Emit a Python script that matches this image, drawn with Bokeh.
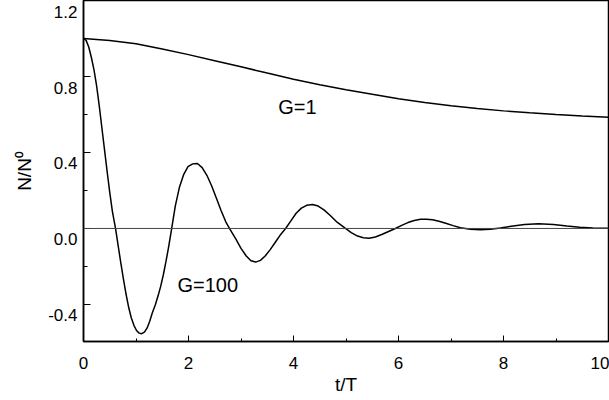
import math
from bokeh.plotting import figure
from bokeh.models import (Range1d, Span, Label, FixedTicker, PrintfTickFormatter,
                          CustomJSTickFormatter, LinearAxis)
from bokeh.embed import file_html
from bokeh.resources import INLINE

# G=1 curve
t_g1 = [0.0, 0.5, 1.0, 1.5, 2.0, 2.5, 3.0, 3.5, 4.0, 4.5, 5.0, 5.5, 6.0, 6.5,
        7.0, 7.5, 8.0, 8.5, 9.0, 9.5, 10.0]
n_g1 = [1.0, 0.99, 0.972, 0.945, 0.915, 0.883, 0.851, 0.818, 0.786, 0.757,
        0.73, 0.706, 0.683, 0.663, 0.646, 0.631, 0.619, 0.609, 0.60, 0.592, 0.585]

# G=100 curve
t_g100 = [0.00, 0.05, 0.10, 0.15, 0.20, 0.25, 0.30, 0.35, 0.40, 0.45, 0.50, 0.55,
          0.61, 0.66, 0.71, 0.76, 0.81, 0.86, 0.91, 0.96, 1.01, 1.06, 1.11, 1.16,
          1.21, 1.26, 1.31, 1.37, 1.43, 1.47, 1.52, 1.57, 1.62, 1.68,
          1.75, 1.83, 1.91, 1.99, 2.08, 2.17, 2.26, 2.35, 2.44, 2.53, 2.62, 2.71, 2.78,
          2.90, 3.00, 3.10, 3.19, 3.28, 3.37, 3.46, 3.56, 3.66, 3.76, 3.85,
          3.95, 4.05, 4.15, 4.25, 4.36, 4.47, 4.58, 4.70, 4.83, 4.99,
          5.10, 5.22, 5.33, 5.44, 5.56, 5.68, 5.80, 5.94,
          6.06, 6.18, 6.30, 6.42, 6.53, 6.65, 6.77, 6.90, 7.04, 7.18,
          7.37, 7.56, 7.75, 7.94, 8.15, 8.40, 8.67, 8.95, 9.21, 9.45, 9.70, 10.0]
n_g100 = [1.00, 0.99, 0.955, 0.90, 0.835, 0.75, 0.645, 0.53, 0.415, 0.30, 0.19, 0.09,
          0.00, -0.09, -0.18, -0.265, -0.345, -0.415, -0.47, -0.51, -0.537, -0.551, -0.554, -0.546,
          -0.525, -0.49, -0.445, -0.40, -0.345, -0.305, -0.245, -0.175, -0.10, 0.00,
          0.12, 0.22, 0.285, 0.325, 0.34, 0.342, 0.32, 0.28, 0.225, 0.16, 0.095, 0.035, 0.00,
          -0.055, -0.105, -0.145, -0.17, -0.177, -0.168, -0.145, -0.11, -0.07, -0.03, 0.00,
          0.04, 0.08, 0.107, 0.122, 0.126, 0.118, 0.098, 0.068, 0.033, 0.00,
          -0.022, -0.04, -0.049, -0.051, -0.045, -0.032, -0.017, 0.00,
          0.016, 0.031, 0.042, 0.048, 0.049, 0.046, 0.038, 0.027, 0.015, 0.004,
          -0.004, -0.007, -0.004, 0.002, 0.012, 0.021, 0.025, 0.021, 0.013, 0.007, 0.003, 0.001]

x_ticks = [0, 2, 4, 6, 8, 10]
x_minor = [1, 3, 5, 7, 9]
y_ticks = [-0.4, 0.0, 0.4, 0.8, 1.2]
y_minor = [-0.2, 0.2, 0.6, 1.0]

FONT = "Liberation Sans"
Y0, Y1 = -0.595, 1.2
LABEL_SHIFT = 0.058   # tick labels sit ~11 px below their ticks, as in the reference

p = figure(width=609, height=400, output_backend="svg", toolbar_location=None,
           x_range=Range1d(0, 10), y_range=Range1d(Y0, Y1),
           min_border_left=83, min_border_right=1, min_border_top=0, min_border_bottom=59)
p.extra_y_ranges = {"lbl": Range1d(Y0 + LABEL_SHIFT, Y1 + LABEL_SHIFT)}
p.grid.visible = False
p.background_fill_color = "white"
p.border_fill_color = "white"
p.outline_line_color = "black"
p.outline_line_width = 1.5

for ax in (p.xaxis[0], p.yaxis[0]):
    ax.axis_line_width = 1.5
    ax.axis_line_color = "black"
    ax.major_tick_out = 0
    ax.minor_tick_out = 0
    ax.major_tick_line_color = "black"
    ax.minor_tick_line_color = "black"
    ax.major_label_text_font = FONT
    ax.major_label_text_font_size = "17px"
    ax.major_label_text_color = "black"
    ax.axis_label_text_font = FONT
    ax.axis_label_text_font_style = "normal"
    ax.axis_label_text_color = "black"

p.xaxis.ticker = FixedTicker(ticks=x_ticks, minor_ticks=x_minor)
p.xaxis.major_tick_in = 6
p.xaxis.minor_tick_in = 3
p.xaxis.major_label_standoff = 15
p.xaxis.axis_label = "t/T"
p.xaxis.axis_label_text_font_size = "19px"
p.xaxis.axis_label_standoff = 2

# primary y axis: line and inside ticks only
ya = p.yaxis[0]
ya.ticker = FixedTicker(ticks=y_ticks, minor_ticks=y_minor)
ya.formatter = CustomJSTickFormatter(code="return '';")
ya.major_tick_in = 7
ya.minor_tick_in = 4
ya.major_label_standoff = 0

# label axis: tick labels and title, no line / ticks
la = LinearAxis(y_range_name="lbl",
                ticker=FixedTicker(ticks=y_ticks, minor_ticks=[]),
                formatter=PrintfTickFormatter(format="%.1f"),
                axis_line_color=None, major_tick_line_color=None, minor_tick_line_color=None,
                major_tick_in=0, major_tick_out=0, minor_tick_in=0, minor_tick_out=0,
                major_label_standoff=6,
                major_label_text_font=FONT, major_label_text_font_size="17px",
                major_label_text_color="black",
                axis_label="N/N\u2070", axis_label_text_font=FONT,
                axis_label_text_font_size="19px", axis_label_text_font_style="normal",
                axis_label_text_color="black", axis_label_standoff=10)
p.add_layout(la, "left")

p.add_layout(Span(location=0, dimension="width", line_color="#444444", line_width=1))

p.line(t_g1, n_g1, line_color="black", line_width=1.5)
p.line(t_g100, n_g100, line_color="black", line_width=1.5)

p.add_layout(Label(x=3.71, y=0.637, text="G=1", text_font=FONT, text_font_size="20px",
                   text_baseline="middle", text_align="left", text_color="black"))
p.add_layout(Label(x=1.79, y=-0.30, text="G=100", text_font=FONT, text_font_size="20px",
                   text_baseline="middle", text_align="left", text_color="black"))

open("out.html", "w").write(file_html(p, INLINE))
